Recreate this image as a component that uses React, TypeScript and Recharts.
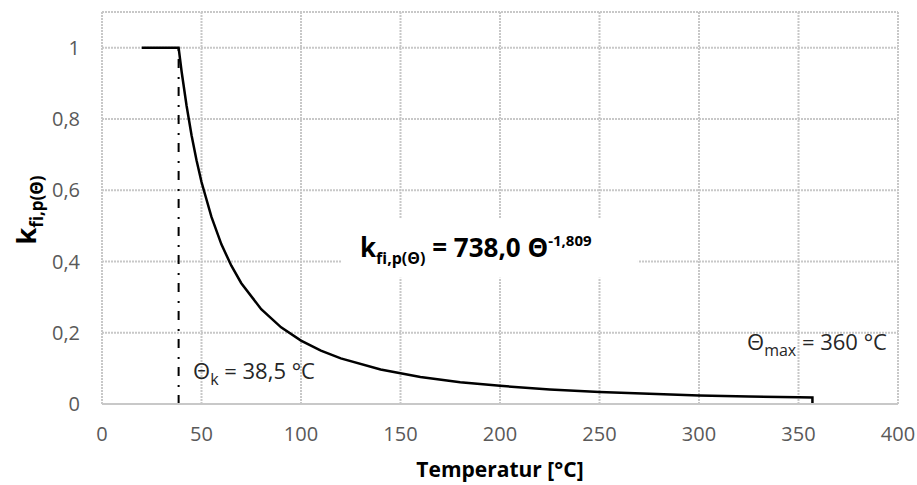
import { CartesianGrid, Line, LineChart, ReferenceArea, ReferenceLine, XAxis, YAxis } from "recharts"

// Temperatur [°C] and reduction factor k_fi,p(Θ)
const tempC = [20, 38.5, 40, 42.5, 45, 47.5, 50, 55, 60, 65, 70, 80, 90, 100, 110, 120, 140, 160, 180, 200, 225, 250, 275, 300, 325, 350, 357, 357]
const kValues = [1, 1, 0.933, 0.837, 0.754, 0.684, 0.623, 0.525, 0.448, 0.388, 0.339, 0.266, 0.215, 0.178, 0.150, 0.128, 0.097, 0.076, 0.061, 0.051, 0.041, 0.034, 0.029, 0.024, 0.021, 0.019, 0.018, 0]

const xTicks = [0, 50, 100, 150, 200, 250, 300, 350, 400]
const yTicks = [0, 0.2, 0.4, 0.6, 0.8, 1, 1.1]

const thetaK = 38.5

const data = tempC.map((t, i) => ({ t, k: kValues[i] }))

const font = "'Open Sans', sans-serif"
const tickStyle = { fontSize: 20, fill: "#595959", fontFamily: font }

const fmt = (v: number) => (v > 1.05 ? "" : String(v).replace(".", ","))

function EquationLabel(props: any) {
  const { x, y, height } = props.viewBox
  return (
    <text x={x + 18} y={y + height / 2 + 9} fontFamily={font} fontWeight={700} fontSize={26} fill="#000">
      k<tspan fontSize={16} dy={7}>fi,p(Θ)</tspan>
      <tspan dy={-7}> = 738,0 Θ</tspan>
      <tspan fontSize={15} dy={-11}>-1,809</tspan>
    </text>
  )
}

export default function App() {
  return (
    <div style={{ position: "absolute", left: 0, top: 0, width: 917, height: 485 }}>
      <LineChart width={917} height={485} data={data} margin={{ top: 12, right: 19, left: 0, bottom: 0 }}>
        <CartesianGrid stroke="#c8c8c8" strokeWidth={2} strokeDasharray="2 1" horizontalValues={yTicks} verticalValues={xTicks} />
        <XAxis
          dataKey="t"
          type="number"
          domain={[0, 400]}
          ticks={xTicks}
          tickLine={false}
          axisLine={{ stroke: "#c8c8c8", strokeWidth: 2 }}
          tick={tickStyle}
          tickMargin={17}
          height={81}
        />
        <YAxis
          type="number"
          domain={[0, 1.1]}
          ticks={yTicks}
          tickFormatter={fmt}
          tickLine={false}
          axisLine={false}
          tick={tickStyle}
          tickMargin={16}
          width={102}
        />
        <ReferenceArea x1={120.6} x2={269.3} y1={0.354} y2={0.522} fill="#fff" fillOpacity={1} stroke="none" label={EquationLabel} />
        <ReferenceLine
          segment={[{ x: thetaK, y: 0 }, { x: thetaK, y: 1 }]}
          stroke="#000"
          strokeWidth={2}
          strokeDasharray="9 8 2 9"
        />
        <Line type="linear" dataKey="k" stroke="#000" strokeWidth={2.5} dot={false} isAnimationActive={false} />
        <text x={193} y={379} fontFamily={font} fontSize={22} fill="#262626">
          Θ<tspan fontSize={16} dy={6}>k</tspan>
          <tspan dy={-6}> = 38,5 °C</tspan>
        </text>
        <text x={747} y={350} fontFamily={font} fontSize={22} fill="#262626">
          Θ<tspan fontSize={16} dy={6}>max</tspan>
          <tspan dy={-6}> = 360 °C</tspan>
        </text>
        <text transform="translate(36, 210) rotate(-90)" textAnchor="middle" fontFamily={font} fontWeight={700} fontSize={27} fill="#000">
          k<tspan fontSize={17} dy={7}>fi,p(Θ)</tspan>
        </text>
        <text x={500} y={477} textAnchor="middle" fontFamily={font} fontWeight={700} fontSize={21} fill="#000">
          Temperatur [°C]
        </text>
      </LineChart>
    </div>
  )
}
